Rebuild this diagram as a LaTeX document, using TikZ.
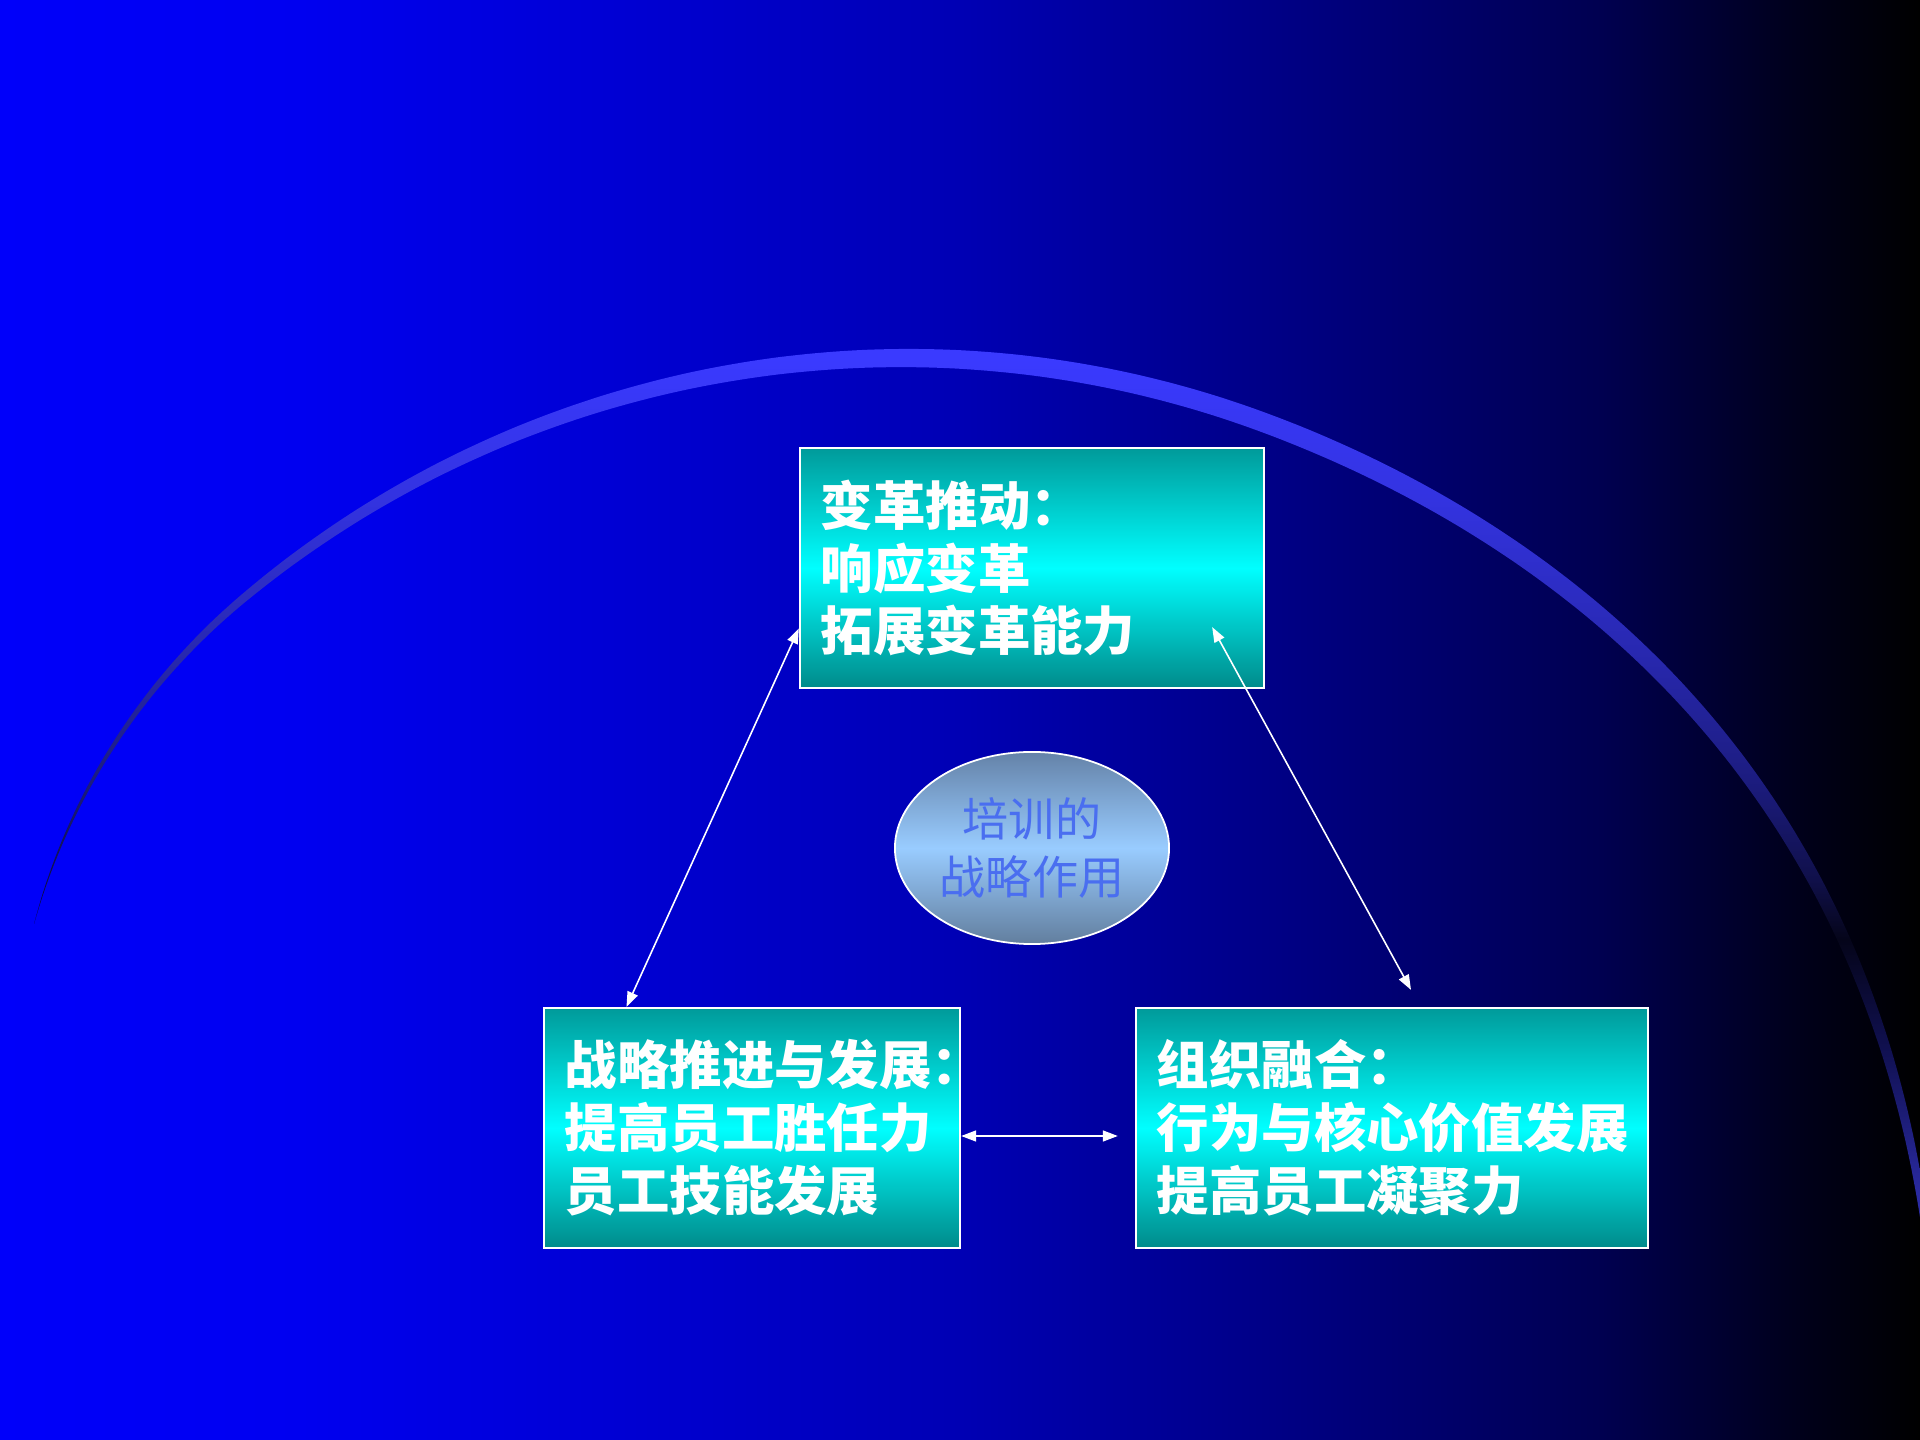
\documentclass[tikz,border=0pt]{standalone}
\usepackage{fontspec}
\newfontfamily\cjk{Noto Sans CJK SC}
\usetikzlibrary{shapes.geometric,arrows.meta,calc}
% Couleurs :
\definecolor{fondA}{HTML}{0000FA}
\definecolor{fondB}{HTML}{0000F0}
\definecolor{fondC}{HTML}{0000B4}
\definecolor{fondD}{HTML}{000085}
\definecolor{fondE}{HTML}{000050}
\definecolor{fondF}{HTML}{00001A}
\definecolor{fondG}{HTML}{000000}
\definecolor{arcA}{HTML}{3A3AFF}
\definecolor{arcB}{HTML}{3333E0}
\definecolor{arcC}{HTML}{2828B0}
\definecolor{arcD}{HTML}{1C1C80}
\definecolor{arcE}{HTML}{10104A}
\definecolor{arcF}{HTML}{05051A}
\definecolor{arcG}{HTML}{101050}
\definecolor{arcH}{HTML}{2A2AA0}
\definecolor{arcI}{HTML}{3030B0}
\definecolor{boiteH}{HTML}{009A9A}
\definecolor{boiteM}{HTML}{00FFFF}
\definecolor{boiteB}{HTML}{008A8A}
\definecolor{bulleH}{HTML}{6482A8}
\definecolor{bulleM}{HTML}{99CCFF}
\definecolor{bulleB}{HTML}{627E9E}
\definecolor{bulleT}{HTML}{4A6EF0}
\pgfdeclarehorizontalshading{fond}{100bp}{color(0bp)=(fondA); color(25bp)=(fondA); color(32.8bp)=(fondB); color(50bp)=(fondC); color(58.3bp)=(fondD); color(66.7bp)=(fondE); color(71.9bp)=(fondF); color(75bp)=(fondG); color(100bp)=(fondG)}
\pgfdeclareverticalshading{arc}{100bp}{color(0bp)=(arcI); color(25bp)=(arcI); color(31.5bp)=(arcH); color(38.9bp)=(arcG); color(44.5bp)=(arcF); color(47.6bp)=(arcE); color(52.8bp)=(arcD); color(59.4bp)=(arcC); color(67.2bp)=(arcB); color(74.5bp)=(arcA); color(100bp)=(arcA)}
\begin{document}
\begin{tikzpicture}[x=0.01cm, y=-0.01cm,
	declare function={rayon(\a)=1031-44*(max(\a-130,0)/22)^2+12*sin(2.571*min(max(\a,0),70))^2; epais(\a)=19.5*sin(1.1118*(\a+10));},
	boite/.style={draw=white, line width=0.6pt, top color=boiteH, bottom color=boiteB, middle color=boiteM, minimum height=2.4cm, inner xsep=0.21cm, align=left, text=white, font=\cjk\bfseries\fontsize{14.9pt}{17.9pt}\selectfont},
	bulle/.style={ellipse, draw=white, line width=0.5pt, top color=bulleH, bottom color=bulleB, middle color=bulleM, minimum width=2.74cm, minimum height=1.92cm, inner sep=0pt, align=center, text=bulleT, font=\cjk\fontsize{13.1pt}{16.5pt}\selectfont},
	fleche/.style={white, line width=0.45pt, >={Triangle[length=1.5mm,width=1.1mm]}, <->}]
%					Tracé du fond :
					\useasboundingbox (0,0) rectangle (1920,1440);
					\shade[shading=fond] (0,0) rectangle (1920,1440);
%					Tracé de l'arc :
					\begin{scope}
					\clip (0,0) rectangle (1920,1440);
					\shade[shading=arc] plot[domain=151.9:4, samples=90, smooth] ({905+(rayon(\x)+epais(\x)/2)*cos(\x)}, {1389-(rayon(\x)+epais(\x)/2)*sin(\x)})
						-- plot[domain=4:151.9, samples=90, smooth] ({905+(rayon(\x)-epais(\x)/2)*cos(\x)}, {1389-(rayon(\x)-epais(\x)/2)*sin(\x)}) -- cycle;
					\end{scope}
%					Les cadres :
					\node[boite, text width=4.22cm] (change) at (1032,568) {变革推动：\\响应变革\\拓展变革能力};
					\node[boite, text width=3.74cm] (strat) at (752,1128) {战略推进与发展：\\提高员工胜任力\\员工技能发展};
					\node[boite, text width=4.70cm] (orga) at (1392,1128) {组织融合：\\行为与核心价值发展\\提高员工凝聚力};
					\node[bulle] (role) at (1032,848) {培训的\\战略作用};
%					Les flèches :
					\draw[fleche] ($(change.south west)!0.25!(change.north west)$) -- ($(strat.north west)!0.2!(strat.north east)$);
					\draw[fleche] ($(change.south east)+(-53,-62)$) -- ($(orga.north)+(19,-17)$);
					\draw[fleche] ($(strat.east)+(0,8)$) -- ($(orga.west)+(-17,8)$);
				\end{tikzpicture}
\end{document}
